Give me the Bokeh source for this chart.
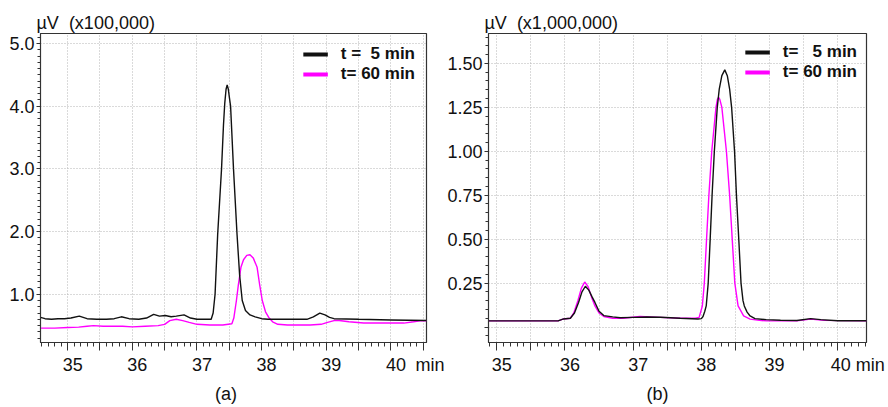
from bokeh.plotting import figure
from bokeh.layouts import row
from bokeh.models import (Range1d, SingleIntervalTicker, FixedTicker, PrintfTickFormatter,
                          CustomJSTickFormatter, Legend, LegendItem, ColumnDataSource)
from bokeh.embed import file_html
from bokeh.resources import INLINE

# ---------------- data ----------------
# Panel (a): signal in units of 100,000 uV, time in min
t5a_t = [34.58, 34.65, 34.75, 34.85, 34.95, 35.05, 35.18, 35.30, 35.45, 35.60, 35.72, 35.83, 35.95,
         36.10, 36.22, 36.33, 36.42, 36.51, 36.60, 36.68, 36.80, 36.90, 37.00, 37.22, 37.25, 37.28,
         37.32, 37.38, 37.41, 37.43, 37.45, 37.467, 37.485, 37.50, 37.52, 37.565, 37.62, 37.66, 37.70,
         37.75, 37.82, 37.90, 38.00, 38.10, 38.40, 38.70, 38.80, 38.90, 38.98, 39.05, 39.12, 39.50,
         40.00, 40.55]
t5a_v = [0.63, 0.61, 0.60, 0.61, 0.61, 0.62, 0.65, 0.61, 0.60, 0.60, 0.61, 0.64, 0.61,
         0.60, 0.62, 0.68, 0.65, 0.66, 0.64, 0.65, 0.67, 0.62, 0.60, 0.60, 0.70, 1.00,
         1.95, 3.0, 3.7, 4.05, 4.27, 4.34, 4.27, 4.15, 4.0, 3.0, 1.95, 1.3, 0.9,
         0.74, 0.67, 0.64, 0.61, 0.60, 0.60, 0.60, 0.64, 0.70, 0.67, 0.63, 0.61, 0.60,
         0.59, 0.58]

t60a_t = [34.58, 34.80, 35.00, 35.17, 35.30, 35.40, 35.55, 35.70, 35.85, 36.00, 36.20, 36.40, 36.50,
          36.58, 36.68, 36.78, 36.88, 37.00, 37.20, 37.40, 37.54, 37.57, 37.61, 37.64, 37.68, 37.72,
          37.77, 37.82, 37.87, 37.93, 37.97, 38.01, 38.06, 38.11, 38.17, 38.25, 38.40, 38.55, 38.75,
          38.92, 39.02, 39.12, 39.20, 39.35, 39.58, 39.90, 40.20, 40.35, 40.45, 40.55]
t60a_v = [0.46, 0.46, 0.47, 0.475, 0.49, 0.50, 0.49, 0.49, 0.49, 0.48, 0.49, 0.50, 0.52,
          0.58, 0.60, 0.58, 0.55, 0.52, 0.51, 0.51, 0.53, 0.62, 0.90, 1.15, 1.43, 1.55,
          1.62, 1.63, 1.58, 1.43, 1.15, 0.90, 0.72, 0.63, 0.56, 0.52, 0.51, 0.51, 0.51,
          0.52, 0.55, 0.58, 0.58, 0.56, 0.54, 0.54, 0.54, 0.56, 0.575, 0.575]

# Panel (b): signal in units of 1,000,000 uV, time in min
t5b_t = [34.88, 35.50, 35.90, 35.98, 36.08, 36.14, 36.20, 36.25, 36.30, 36.35, 36.40, 36.44, 36.50,
         36.57, 36.70, 36.81, 37.00, 37.20, 37.40, 37.69, 37.95, 38.00, 38.024, 38.05, 38.071, 38.10,
         38.129, 38.157, 38.19, 38.233, 38.262, 38.30, 38.343, 38.38, 38.414, 38.443, 38.486, 38.514,
         38.548, 38.581, 38.61, 38.629, 38.67, 38.714, 38.786, 38.95, 39.16, 39.40, 39.60, 39.75,
         40.00, 40.42]
t5b_v = [0.035, 0.035, 0.035, 0.046, 0.05, 0.08, 0.14, 0.20, 0.232, 0.21, 0.17, 0.14, 0.09,
         0.065, 0.058, 0.053, 0.055, 0.057, 0.056, 0.05, 0.046, 0.048, 0.06, 0.09, 0.12, 0.25,
         0.50, 0.75, 1.00, 1.25, 1.354, 1.43, 1.463, 1.43, 1.354, 1.25, 1.00, 0.75,
         0.50, 0.25, 0.15, 0.12, 0.085, 0.063, 0.048, 0.042, 0.039, 0.037, 0.048, 0.042,
         0.036, 0.036]

t60b_t = [34.88, 35.50, 35.90, 35.98, 36.08, 36.13, 36.19, 36.24, 36.29, 36.34, 36.39, 36.44, 36.50,
          36.57, 36.70, 36.85, 37.10, 37.40, 37.70, 37.91, 37.967, 38.014, 38.043, 38.076, 38.11,
          38.152, 38.214, 38.235, 38.252, 38.27, 38.30, 38.367, 38.414, 38.452, 38.49, 38.538, 38.619,
          38.714, 38.85, 38.96, 39.40, 39.60, 39.80, 40.42]
t60b_v = [0.035, 0.035, 0.035, 0.046, 0.05, 0.08, 0.15, 0.22, 0.256, 0.23, 0.17, 0.12, 0.08,
          0.06, 0.05, 0.05, 0.06, 0.055, 0.05, 0.05, 0.055, 0.12, 0.25, 0.50, 0.75,
          1.00, 1.25, 1.295, 1.307, 1.295, 1.25, 1.00, 0.75, 0.50, 0.25, 0.12, 0.063,
          0.045, 0.038, 0.035, 0.035, 0.045, 0.038, 0.035]

a_yticks = [1.0, 2.0, 3.0, 4.0, 5.0]
b_yticks = [0.0, 0.25, 0.50, 0.75, 1.00, 1.25, 1.50]

x_unit = "min"
title_a = "\u00b5V\u00a0 (x100,000)"
title_b = "\u00b5V\u00a0 (x1,000,000)"
legend_a = ["t =\u00a0 5 min", "t= 60 min"]
legend_b = ["t=\u00a0\u00a0 5 min", "t= 60 min"]
tag_a = "(a)"
tag_b = "(b)"

# ---------------- styling ----------------
FONT = "Liberation Sans"
BLACK = "#111111"
MAGENTA = "#ff00ff"
AXIS = "#333333"
GRID = "#b4b4b4"
NB = "\u00a0"

# tick labels: integers only, nudged right like the original software output
fmt_a = CustomJSTickFormatter(args=dict(unit=x_unit), code="""
const nb = '\\u00a0';
if (Math.abs(tick - 40.5) < 1e-6) return nb + nb + nb + unit;
const r = Math.round(tick);
return Math.abs(tick - r) < 1e-6 ? nb + nb + r : '';
""")
fmt_b = CustomJSTickFormatter(args=dict(unit=x_unit), code="""
const nb = '\\u00a0';
const r = Math.round(tick);
if (Math.abs(tick - r) > 1e-6) return '';
if (r === 40) return nb.repeat(8) + r + ' ' + unit;
return nb + nb + r;
""")


def make_panel(width, x0, x1, y0, y1, yticks, yminor, xfmt, yfmt, title, tag,
               border_left, border_right):
    p = figure(width=width, height=406, x_range=Range1d(x0, x1), y_range=Range1d(y0, y1),
               output_backend="svg", toolbar_location=None,
               min_border_left=border_left, min_border_right=border_right,
               min_border_top=33, min_border_bottom=60)
    p.background_fill_color = "white"
    p.border_fill_color = "white"
    p.outline_line_color = AXIS
    p.outline_line_width = 1.2

    p.title.text = title
    p.title.text_font = FONT
    p.title.text_font_size = "18px"
    p.title.text_font_style = "normal"
    p.title.text_color = BLACK
    p.title.align = "left"
    p.title.offset = -4
    p.title.standoff = 2

    xt = SingleIntervalTicker(interval=0.5, num_minor_ticks=5)
    p.xaxis.ticker = xt
    p.xgrid.ticker = xt
    p.xaxis.formatter = xfmt
    yt = FixedTicker(ticks=yticks, minor_ticks=yminor)
    p.yaxis.ticker = yt
    p.ygrid.ticker = yt
    p.yaxis.formatter = yfmt

    for ax in (p.xaxis[0], p.yaxis[0]):
        ax.axis_line_color = AXIS
        ax.major_tick_line_color = AXIS
        ax.minor_tick_line_color = AXIS
        ax.major_tick_in = 0
        ax.minor_tick_in = 0
        ax.major_label_text_font = FONT
        ax.major_label_text_font_size = "18px"
        ax.major_label_text_color = BLACK
    p.xaxis.major_tick_out = 8
    p.xaxis.minor_tick_out = 4
    p.xaxis.major_label_standoff = 4
    p.xaxis.axis_label = tag
    p.xaxis.axis_label_text_font = FONT
    p.xaxis.axis_label_text_font_size = "18px"
    p.xaxis.axis_label_text_font_style = "normal"
    p.xaxis.axis_label_text_color = BLACK
    p.xaxis.axis_label_standoff = 6
    p.yaxis.major_tick_out = 4
    p.yaxis.minor_tick_out = 3
    p.yaxis.major_label_standoff = 2

    for g in (p.xgrid[0], p.ygrid[0]):
        g.grid_line_color = GRID
        g.grid_line_dash = "1 2"
        g.grid_line_width = 1
    return p


def add_curves(p, xs5, ys5, xs60, ys60, labels, pad):
    s60 = ColumnDataSource(data=dict(x=xs60, y=ys60))
    s5 = ColumnDataSource(data=dict(x=xs5, y=ys5))
    p.line("x", "y", source=s60, line_color=MAGENTA, line_width=1.4)
    p.line("x", "y", source=s5, line_color=BLACK, line_width=1.4)
    # legend swatches (thicker lines, nothing drawn in the plot)
    nan = float("nan")
    l5 = p.line(x=[nan], y=[nan], line_color=BLACK, line_width=4)
    l60 = p.line(x=[nan], y=[nan], line_color=MAGENTA, line_width=4)
    leg = Legend(items=[LegendItem(label=labels[0], renderers=[l5]),
                        LegendItem(label=labels[1], renderers=[l60])],
                 location="top_right", border_line_alpha=0, background_fill_alpha=0,
                 label_text_font=FONT, label_text_font_style="bold", label_text_font_size="17px",
                 label_text_color=BLACK, glyph_width=25, glyph_height=18, label_height=18,
                 label_standoff=13, spacing=0, padding=pad, margin=0)
    p.add_layout(leg)


pa = make_panel(444, 34.58, 40.55, 0.23, 5.16, a_yticks,
                [round(0.3 + 0.1 * i, 2) for i in range(49)],
                fmt_a, PrintfTickFormatter(format="%.1f"), title_a, tag_a + NB * 3, 40, 18)
add_curves(pa, t5a_t, t5a_v, t60a_t, t60a_v, legend_a, 11)

pb = make_panel(444, 34.88, 40.42, -0.088, 1.670, b_yticks,
                [round(-0.05 + 0.05 * i, 2) for i in range(35)],
                fmt_b, CustomJSTickFormatter(code="return tick > 0.01 ? tick.toFixed(2) : '';"),
                title_b, tag_b + NB * 8, 44, 22)
add_curves(pb, t5b_t, t5b_v, t60b_t, t60b_v, legend_b, 9)

layout = row(pa, pb)
open("out.html", "w").write(file_html(layout, INLINE))
